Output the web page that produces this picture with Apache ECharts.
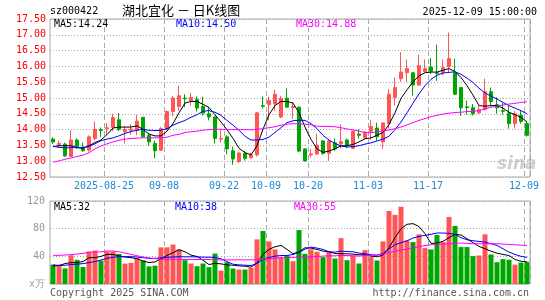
<!DOCTYPE html>
<html>
<head>
<meta charset="utf-8">
<script src="https://cdn.jsdelivr.net/npm/echarts@6/dist/echarts.min.js"></script>
<style>
html, body { margin: 0; padding: 0; background: #fff; }
#main { width: 545px; height: 300px; }
</style>
</head>
<body>
<div id="main"></div>
<script>
var dates = [
  '2025-08-12','2025-08-13','2025-08-14','2025-08-15','2025-08-18','2025-08-19','2025-08-20','2025-08-21','2025-08-22','2025-08-25','2025-08-26','2025-08-27','2025-08-28','2025-08-29',
  '2025-09-01','2025-09-02','2025-09-03','2025-09-04','2025-09-05','2025-09-08','2025-09-09','2025-09-10','2025-09-11','2025-09-12','2025-09-15','2025-09-16','2025-09-17','2025-09-18','2025-09-19','2025-09-22','2025-09-23','2025-09-24','2025-09-25','2025-09-26','2025-09-29','2025-09-30',
  '2025-10-09','2025-10-10','2025-10-13','2025-10-14','2025-10-15','2025-10-16','2025-10-17','2025-10-20','2025-10-21','2025-10-22','2025-10-23','2025-10-24','2025-10-27','2025-10-28','2025-10-29','2025-10-30','2025-10-31',
  '2025-11-03','2025-11-04','2025-11-05','2025-11-06','2025-11-07','2025-11-10','2025-11-11','2025-11-12','2025-11-13','2025-11-14','2025-11-17','2025-11-18','2025-11-19','2025-11-20','2025-11-21','2025-11-24','2025-11-25','2025-11-26','2025-11-27','2025-11-28',
  '2025-12-01','2025-12-02','2025-12-03','2025-12-04','2025-12-05','2025-12-08','2025-12-09'
];
// 标注日期（竖虚线 + 轴标签）
var markDates = ['2025-08-25','2025-09-08','2025-09-22','2025-10-09','2025-10-20','2025-11-03','2025-11-17','2025-12-09'];

var open = [13.70,13.53,13.54,13.15,13.67,13.44,13.35,13.72,14.00,14.03,
  14.07,14.31,13.93,13.98,13.98,14.39,13.82,13.56,13.35,14.01,
  14.57,14.73,15.00,14.92,14.95,14.73,14.50,14.40,13.70,13.77,
  13.33,12.99,13.25,13.11,13.20,14.76,14.79,14.81,14.40,14.99,
  14.70,14.71,13.39,13.20,13.23,13.64,13.25,13.58,13.55,13.67,
  13.41,13.86,13.74,13.95,14.05,13.61,14.19,15.02,15.61,15.80,
  15.80,15.41,15.83,15.98,15.80,15.80,15.99,15.80,15.33,14.72,
  14.69,14.53,14.64,15.20,14.79,14.60,14.52,14.19,14.45,14.19];
var close = [13.61,13.56,13.17,13.67,13.46,13.33,13.77,14.01,13.97,14.06,
  14.38,14.00,14.00,14.02,14.27,13.77,13.61,13.33,14.03,14.57,
  15.00,15.07,14.98,15.02,14.68,14.52,14.40,13.72,13.72,13.39,
  13.07,13.26,13.09,13.20,14.53,14.74,14.92,15.12,14.99,14.71,
  14.73,13.32,13.01,13.23,13.51,13.25,13.64,13.39,13.62,13.51,
  13.95,13.82,13.91,14.10,13.77,14.21,15.12,15.33,15.82,15.93,
  15.41,16.03,15.93,15.85,15.78,15.96,16.25,15.12,14.69,14.70,
  14.50,14.63,15.20,14.89,14.69,14.58,14.19,14.50,14.26,13.82];
var high = [13.76,13.65,13.59,13.98,13.72,13.58,13.82,14.26,14.07,14.20,
  14.50,14.53,14.10,14.18,14.47,14.40,13.87,13.65,14.08,14.60,
  15.07,15.39,15.12,15.15,15.05,15.04,14.71,14.42,14.00,13.82,
  13.46,13.30,13.32,13.27,14.55,15.05,15.04,15.26,15.07,15.30,
  14.86,14.73,13.41,13.39,13.87,13.67,13.67,13.72,14.16,13.72,
  13.97,14.01,13.96,14.31,14.22,14.22,15.28,15.65,16.45,16.22,
  15.80,16.38,16.22,16.27,16.69,16.22,17.07,16.25,15.33,14.92,
  14.81,14.76,15.61,15.33,15.02,14.84,14.76,14.60,14.60,14.25];
var low = [13.55,13.42,13.13,13.13,13.39,13.30,13.30,13.67,13.77,13.85,
  13.95,13.95,13.56,13.84,13.82,13.74,13.49,13.09,13.32,13.98,
  14.43,14.60,14.71,14.76,14.57,14.45,14.29,13.56,13.59,13.22,
  12.89,12.94,13.02,13.09,13.15,14.66,14.29,14.60,14.36,14.70,
  14.34,13.28,12.99,13.12,13.20,13.20,13.01,13.33,13.40,13.41,
  13.39,13.72,13.70,13.67,13.65,13.39,14.03,14.76,15.51,15.51,
  15.07,15.39,15.82,15.75,15.54,15.72,15.80,15.09,14.43,14.47,
  14.45,14.50,14.60,14.76,14.50,14.47,14.03,14.03,14.19,13.78];

var ma5 = [13.46,13.49,13.49,13.49,13.43,13.41,13.49,13.59,13.67,13.84,
  14.05,14.08,14.08,14.08,14.12,14.01,13.86,13.80,13.80,13.95,
  14.19,14.53,14.84,14.89,14.89,14.80,14.70,14.47,14.24,14.00,
  13.72,13.41,13.27,13.20,13.49,14.01,14.47,14.76,14.89,14.89,
  14.84,14.53,14.08,13.69,13.39,13.28,13.32,13.39,13.49,13.49,
  13.53,13.61,13.71,13.74,13.82,13.91,14.16,14.53,14.99,15.26,
  15.51,15.70,15.80,15.82,15.82,15.88,15.93,15.84,15.65,15.39,
  15.09,14.76,14.74,14.76,14.76,14.68,14.55,14.47,14.39,14.24];
var ma10 = [13.47,13.44,13.42,13.43,13.43,13.43,13.47,13.55,13.65,13.70,
  13.74,13.80,13.88,13.94,13.98,14.01,13.98,13.97,13.98,14.03,
  14.14,14.22,14.29,14.39,14.47,14.58,14.60,14.55,14.45,14.29,
  14.14,13.98,13.79,13.67,13.67,13.69,13.76,13.91,14.06,14.22,
  14.28,14.30,14.29,14.19,14.03,13.82,13.67,13.56,13.48,13.45,
  13.46,13.49,13.54,13.58,13.64,13.70,13.79,14.00,14.24,14.53,
  14.84,15.13,15.39,15.59,15.72,15.79,15.81,15.83,15.75,15.63,
  15.49,15.31,15.16,15.06,14.97,14.86,14.76,14.68,14.60,14.50];
var ma30 = [12.97,13.01,13.06,13.10,13.15,13.19,13.27,13.39,13.48,13.55,
  13.61,13.66,13.70,13.72,13.73,13.74,13.74,13.74,13.74,13.76,
  13.82,13.85,13.91,13.93,13.95,13.98,14.00,14.01,14.01,14.00,
  14.00,14.00,14.00,13.99,14.01,14.03,14.06,14.09,14.14,14.17,
  14.19,14.18,14.17,14.15,14.11,14.10,14.10,14.09,14.06,14.02,
  13.99,13.95,13.91,13.90,13.93,13.96,13.99,14.03,14.08,14.15,
  14.22,14.29,14.35,14.41,14.45,14.49,14.52,14.54,14.55,14.57,
  14.58,14.60,14.66,14.71,14.74,14.78,14.81,14.83,14.86,14.88];

// 成交量（万手）
var volume = [28,28,22.5,41.5,35,24.5,47,48.5,34,47,
  47,43.5,29.5,30.5,37.5,34,25.5,26.5,53,53,
  57,50,34.4,29.6,25.7,29.6,24.3,44,19.4,31.5,
  22.3,20.9,20.9,23.3,64.5,76.6,61.6,50,38.8,41.2,
  33,78,43.6,50,46.6,38.8,46.6,36.9,66.4,34.4,
  41.2,29.6,49,38.8,34,61.6,105.7,100,111.6,63,
  60.6,71.8,51.9,50,70.8,60.6,97,84,53.4,53.4,
  40.3,41.2,71.8,42.7,31.5,36,35,28,31,32];
var vma5 = [26.2,26.7,29.5,30.9,30.9,32.4,38,38,40,42.8,
  42.8,40.5,39,38,36.7,33.3,31,31.9,36.7,41.4,
  45.2,49.5,46.6,41.7,39.8,34.4,28.1,30,29.1,27.6,
  27.2,26.2,25.7,24.3,30.6,42.7,50,53.8,55.8,50,
  43.7,46.6,52.4,51.9,50,47.5,46.6,44.1,43.7,43.7,
  43.2,42.2,42.2,40.3,39.3,41.7,52.4,67,80,86.3,
  87.3,83,72.8,58.7,59.2,61.6,67,71.8,70.8,65.5,
  59.7,54.3,51,47.5,44.6,42.7,41.2,35.4,33,32];
var vma10 = [27.6,26.7,27.1,28.1,28.6,29.5,30.9,32.4,34.7,37.1,
  38.6,39.5,39.5,39.5,39,38,37.1,37.1,37.6,38.6,
  39,39.4,39.3,39.3,39.3,38.8,38.8,38.3,36.4,32.5,
  28.6,27.6,27.2,26.7,29.6,35.4,38.3,40.3,41.2,41.2,
  42.7,45.6,50.4,53.4,51.9,50,46.6,46.1,47.5,47,
  46.6,44.6,43.7,42.2,41.7,44.1,50.9,56.7,59.7,62.5,
  66.4,68.9,70.3,71.8,73.7,73.7,73.2,71.8,66.9,64,
  62.5,61.6,60.6,58.2,55.8,50.9,46.1,42.7,40,38.5];
var vma30 = [41.4,41.4,41.9,42.4,43.3,44.3,45.7,46.2,46.6,47.6,
  47.6,46.6,44.7,42.8,40.9,39,37.6,36.7,35.7,35.7,
  35.7,35.6,35.5,35.5,35.4,35.4,35.4,35.2,34.9,34.9,
  34.9,34.9,34.9,34.9,34.9,35.9,36.9,37.4,37.9,37.9,
  38.4,38.8,38.8,39.3,39.8,40.3,40.8,40.8,41.2,41.2,
  40.8,40.5,40.8,41.2,41.7,43.2,45.6,47.5,49,50.4,
  52.4,53.8,55.8,56.7,57.2,57.7,58.2,58.7,59.2,58.7,
  58.2,58.2,58.2,58.2,58.2,57.7,57.2,56.7,56.2,55.5];

(function () {
  var myChart = echarts.init(document.getElementById('main'));
  var upColor = '#ff5555';
  var downColor = '#00a600';
  var mono = '"DejaVu Sans Mono", monospace';
  var gridColor = '#a8a8a8';

  var kData = dates.map(function (d, i) { return [open[i], close[i], low[i], high[i]]; });
  var volData = volume.map(function (v, i) {
    return { value: v, itemStyle: { color: close[i] >= open[i] ? upColor : downColor } };
  });

  function isMark(idx, val) { return markDates.indexOf(val) >= 0; }

  function maLine(name, data, color, xi) {
    return {
      name: name, type: 'line', data: data,
      xAxisIndex: xi, yAxisIndex: xi,
      symbol: 'none', smooth: false, silent: true,
      lineStyle: { color: color, width: 1 }
    };
  }

  function txt(x, y, text, color, opt) {
    opt = opt || {};
    return {
      type: 'text', x: x, y: y, silent: true,
      style: {
        text: text, fill: color,
        font: opt.font || ('10px ' + mono),
        align: opt.align || 'left', textAlign: opt.align || 'left',
        verticalAlign: 'middle', textVerticalAlign: 'middle',
        opacity: opt.opacity == null ? 1 : opt.opacity
      }
    };
  }

  var option = {
    animation: false,
    backgroundColor: '#fff',
    grid: [
      { left: 50, top: 19, width: 480, height: 158, show: true, borderColor: gridColor, borderWidth: 1 },
      { left: 50, top: 201, width: 480, height: 83, show: true, borderColor: gridColor, borderWidth: 1 }
    ],
    xAxis: [{
      type: 'category', gridIndex: 0, data: dates, boundaryGap: true,
      axisLine: { show: false }, axisTick: { show: false },
      axisLabel: {
        interval: isMark,
        formatter: function (v) { return v === markDates[0] ? v : v.slice(5); },
        color: '#1a88d6', fontSize: 10, fontFamily: mono, margin: 4,
        padding: [0, 6, 0, 0]
      },
      splitLine: { show: true, interval: isMark, lineStyle: { color: gridColor, type: [5, 3], width: 1 } }
    }, {
      type: 'category', gridIndex: 1, data: dates, boundaryGap: true,
      axisLine: { show: false }, axisTick: { show: false }, axisLabel: { show: false },
      splitLine: { show: true, interval: isMark, lineStyle: { color: gridColor, type: [5, 3], width: 1 } }
    }],
    yAxis: [{
      type: 'value', gridIndex: 0, min: 12.5, max: 17.5, interval: 0.5,
      axisLine: { show: false }, axisTick: { show: false },
      axisLabel: {
        color: '#ff0000', fontSize: 10, fontFamily: mono, margin: 4,
        formatter: function (v) { return v.toFixed(2); }
      },
      splitLine: { lineStyle: { color: gridColor, type: [1, 2], width: 1 } }
    }, {
      type: 'value', gridIndex: 1, min: 0, max: 120, interval: 40,
      axisLine: { show: false }, axisTick: { show: false },
      axisLabel: {
        color: '#999', fontSize: 10, fontFamily: mono, margin: 5,
        formatter: function (v) { return v === 0 ? 'x万' : v; }
      },
      splitLine: { lineStyle: { color: gridColor, type: [1, 2], width: 1 } }
    }],
    series: [
      {
        name: 'K', type: 'candlestick', data: kData,
        xAxisIndex: 0, yAxisIndex: 0, barWidth: 4,
        itemStyle: {
          color: upColor, color0: downColor,
          borderColor: upColor, borderColor0: downColor, borderWidth: 1
        }
      },
      maLine('MA5', ma5, '#000000', 0),
      maLine('MA10', ma10, '#0000ff', 0),
      maLine('MA30', ma30, '#ff00ff', 0),
      {
        name: 'VOL', type: 'bar', data: volData,
        xAxisIndex: 1, yAxisIndex: 1, barWidth: 5
      },
      maLine('VMA5', vma5, '#000000', 1),
      maLine('VMA10', vma10, '#0000ff', 1),
      maLine('VMA30', vma30, '#ff00ff', 1)
    ],
    graphic: [
      txt(50, 11, 'sz000422', '#000'),
      txt(122, 10, '湖北宜化 － 日K线图', '#000', { font: '13px "Noto Sans CJK SC", sans-serif' }),
      txt(537, 12, '2025-12-09 15:00:00', '#000', { align: 'right' }),
      txt(54, 24, 'MA5:14.24', '#000'),
      txt(176, 24, 'MA10:14.50', '#0000ff'),
      txt(296, 24, 'MA30:14.88', '#ff00ff'),
      txt(54, 207, 'MA5:32', '#000'),
      txt(175, 207, 'MA10:38', '#0000ff'),
      txt(294, 207, 'MA30:55', '#ff00ff'),
      txt(50, 293, 'Copyright 2025 SINA.COM', '#555'),
      txt(529, 293, 'http://finance.sina.com.cn', '#555', { align: 'right' }),
      txt(497, 165, 'sina', '#bbbbbb', { font: 'italic bold 17px "DejaVu Sans", sans-serif', opacity: 0.7 })
    ]
  };

  myChart.setOption(option);
  window.addEventListener('resize', function () {
    myChart.resize();
  });
})();
</script>
</body>
</html>
